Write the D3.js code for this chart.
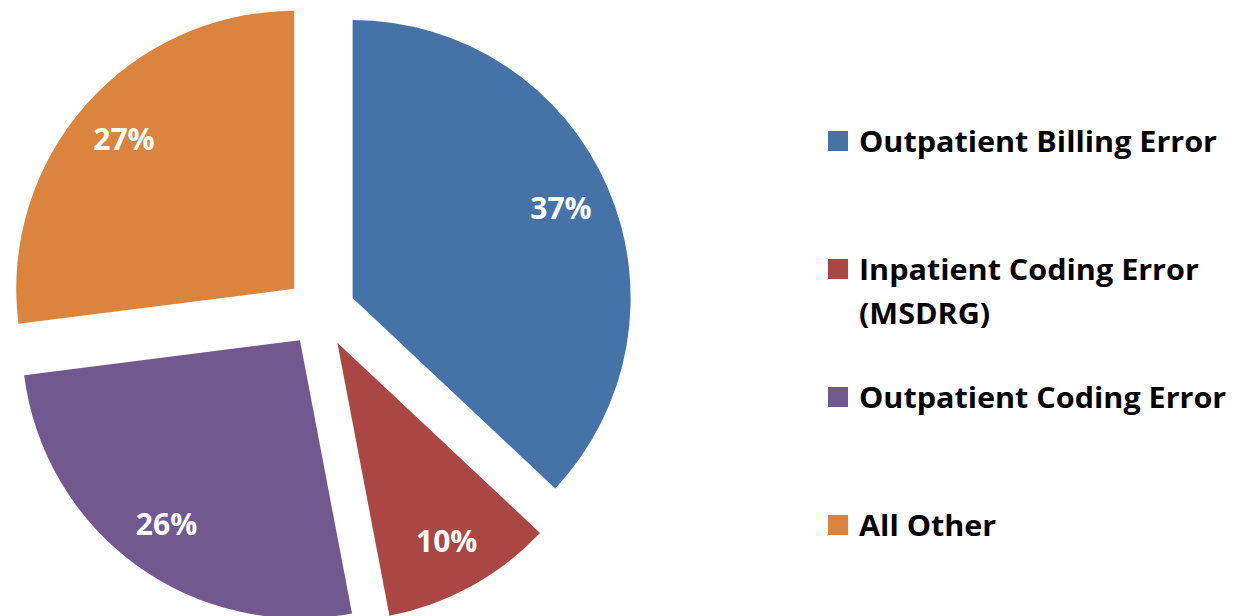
<!DOCTYPE html>
<html>
<head>
<meta charset="utf-8">
<script src="https://cdn.jsdelivr.net/npm/d3@7"></script>
<style>
  html, body { margin: 0; padding: 0; background: #ffffff; }
  svg { display: block; }
  text { font-family: "Open Sans", "Noto Sans", sans-serif; font-weight: bold; }
</style>
</head>
<body>
<svg id="chart" width="1240" height="616"></svg>
<script>
// ---- data ----
const categories = ["Outpatient Billing Error", "Inpatient Coding Error (MSDRG)", "Outpatient Coding Error", "All Other"];
const legendLines = [["Outpatient Billing Error"], ["Inpatient Coding Error", "(MSDRG)"], ["Outpatient Coding Error"], ["All Other"]];
const values = [37, 10, 26, 27];
const colors = ["#4572A7", "#AA4643", "#71588F", "#DB843D"];

// ---- layout ----
const W = 1240, H = 616;
const cx = 320.5, cy = 312, R = 278, explode = 35, labelR = 262;

const svg = d3.select("#chart");
const pie = d3.pie().sort(null).value(d => d)(values);
const arc = d3.arc().innerRadius(0).outerRadius(R);

const g = svg.append("g").attr("transform", `translate(${cx},${cy})`);

const slices = g.selectAll("g.slice").data(pie).enter().append("g").attr("class", "slice");

slices.append("path")
  .attr("d", arc)
  .attr("fill", (d, i) => colors[i])
  .attr("transform", d => {
    const a = (d.startAngle + d.endAngle) / 2;
    return `translate(${explode * Math.sin(a)},${-explode * Math.cos(a)})`;
  });

slices.append("text")
  .attr("x", d => labelR * Math.sin((d.startAngle + d.endAngle) / 2))
  .attr("y", d => -labelR * Math.cos((d.startAngle + d.endAngle) / 2))
  .attr("dy", "0.36em")
  .attr("text-anchor", "middle")
  .attr("fill", "#ffffff")
  .attr("font-size", 30)
  .text(d => d.data + "%");

// ---- legend ----
const legendX = 828, textX = 859, sq = 20;
const baselines = [152, 280, 408, 536];
const lineH = 44;
const fs = 28;
const targetFirst = 358; // width of first legend entry

const leg = svg.append("g");
const items = leg.selectAll("g.item").data(categories).enter().append("g").attr("class", "item");

items.append("rect")
  .attr("x", legendX)
  .attr("y", (d, i) => baselines[i] - sq - 1)
  .attr("width", sq).attr("height", sq)
  .attr("fill", (d, i) => colors[i]);

const texts = [];
items.each(function (d, i) {
  legendLines[i].forEach((ln, j) => {
    const t = d3.select(this).append("text")
      .attr("x", textX)
      .attr("y", baselines[i] + j * lineH)
      .attr("font-size", fs)
      .attr("fill", "#000000")
      .text(ln);
    texts.push(t);
  });
});
// horizontally condense to match reference font width
const natFirst = texts[0].node().getComputedTextLength();
const k = targetFirst / natFirst;
texts.forEach(t => {
  const n = t.node().getComputedTextLength();
  t.attr("textLength", n * k).attr("lengthAdjust", "spacingAndGlyphs");
});
</script>
</body>
</html>
